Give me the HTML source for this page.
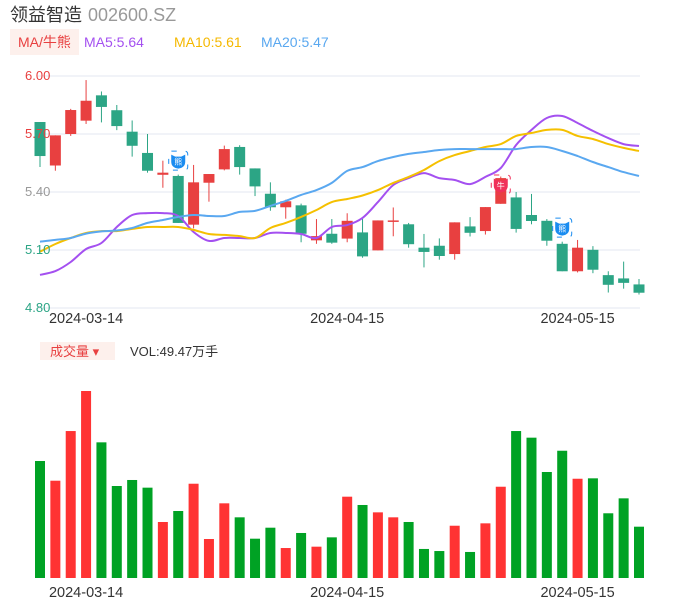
<!DOCTYPE html>
<html><head><meta charset="utf-8">
<style>
body{margin:0;background:#fff;width:686px;height:606px;overflow:hidden;font-family:"Liberation Sans","Noto Sans CJK SC",sans-serif;}
svg{position:absolute;left:0;top:0}
</style></head><body>
<svg id="c" width="686" height="606" xmlns="http://www.w3.org/2000/svg">
<text x="10" y="21" font-size="18" fill="#333">领益智造</text>
<text x="88" y="21" font-size="18" fill="#999">002600.SZ</text>
<rect x="10" y="29" width="69" height="26" fill="#fdf0ec"/>
<text x="18" y="47" font-size="14" fill="#e84040">MA/牛熊</text>
<text x="84" y="47" font-size="14" fill="#a450f0">MA5:5.64</text>
<text x="174" y="47" font-size="14" fill="#f5b800">MA10:5.61</text>
<text x="261" y="47" font-size="14" fill="#5aa8f0">MA20:5.47</text>
<rect x="40" y="342" width="75" height="18" fill="#fdf0ec"/>
<text x="50" y="356" font-size="13" fill="#e84040">成交量 ▾</text>
<text x="130" y="356" font-size="13" fill="#333">VOL:49.47万手</text>
<g id="grid"></g><g id="vol"></g><g id="cand"></g><g id="ma"></g><g id="icons"></g><g id="labels"></g>
</svg>
<script>
const dates=["2024-03-14","2024-04-15","2024-05-15"];
const dateIdx=[3,20,35];
const yTicks=[6.00,5.70,5.40,5.10,4.80];
const opens=[5.762,5.537,5.70,5.769,5.90,5.823,5.712,5.602,5.489,5.483,5.231,5.448,5.517,5.633,5.522,5.391,5.321,5.331,5.15,5.184,5.159,5.191,5.098,5.248,5.233,5.112,5.122,5.079,5.222,5.198,5.339,5.372,5.281,5.251,5.132,4.99,5.101,4.97,4.953,4.922];
const closes=[5.586,5.693,5.824,5.872,5.84,5.741,5.639,5.51,5.50,5.24,5.45,5.493,5.622,5.529,5.429,5.321,5.352,5.184,5.172,5.138,5.251,5.067,5.253,5.253,5.13,5.09,5.069,5.243,5.189,5.322,5.472,5.209,5.25,5.148,4.99,5.112,4.998,4.92,4.93,4.879];
const highs=[5.762,5.693,5.83,5.979,5.92,5.85,5.77,5.70,5.562,5.49,5.54,5.493,5.64,5.642,5.522,5.45,5.36,5.34,5.26,5.26,5.29,5.27,5.253,5.32,5.24,5.183,5.16,5.243,5.27,5.322,5.48,5.40,5.39,5.26,5.143,5.152,5.12,4.99,5.04,4.95];
const lows=[5.529,5.51,5.69,5.752,5.76,5.72,5.583,5.50,5.422,5.24,5.212,5.35,5.512,5.49,5.379,5.303,5.262,5.14,5.132,5.132,5.14,5.06,5.098,5.171,5.112,5.01,5.05,5.05,5.17,5.18,5.339,5.19,5.233,5.122,4.99,4.984,4.98,4.88,4.90,4.87];
const ma5=[4.971,4.991,5.038,5.105,5.136,5.219,5.281,5.291,5.291,5.276,5.193,5.147,5.162,5.162,5.162,5.188,5.188,5.183,5.162,5.219,5.229,5.266,5.348,5.436,5.472,5.498,5.472,5.462,5.441,5.478,5.524,5.643,5.721,5.783,5.793,5.757,5.716,5.679,5.648,5.638];
const ma10=[5.091,5.131,5.162,5.188,5.198,5.198,5.209,5.219,5.219,5.219,5.204,5.183,5.178,5.172,5.162,5.214,5.240,5.271,5.307,5.348,5.364,5.382,5.410,5.447,5.478,5.514,5.560,5.591,5.612,5.633,5.648,5.690,5.705,5.721,5.721,5.690,5.674,5.648,5.628,5.612];
const ma20=[5.143,5.152,5.162,5.185,5.196,5.201,5.214,5.240,5.255,5.271,5.281,5.276,5.276,5.297,5.302,5.328,5.354,5.385,5.410,5.447,5.509,5.529,5.560,5.581,5.597,5.607,5.617,5.622,5.622,5.622,5.622,5.622,5.633,5.633,5.612,5.586,5.555,5.529,5.503,5.483];
const volumes=[112.8,93.8,141.7,180.3,130.8,88.7,94.5,87.1,54,64.6,90.9,37.6,72,58.5,37.9,48.5,28.9,43.4,30.2,39.2,78.4,70.4,63.3,58.5,54,28,26,50.4,25.1,52.7,88,141.7,135.3,102.2,122.7,95.7,96.1,62.4,76.8,49.47];
const signals=[{i:9,t:"熊",up:true},{i:30,t:"牛",up:false},{i:34,t:"熊",up:true}];

const NS="http://www.w3.org/2000/svg";
function mk(tag,attrs,parent){const e=document.createElementNS(NS,tag);for(const k in attrs)e.setAttribute(k,attrs[k]);document.getElementById(parent).appendChild(e);return e;}
const x=i=>40+i*(599/39);
const y=p=>76+(6-p)*(232/1.2);
const vy=v=>578-v*(187/180.3);
const RED="#e84040",GRN="#2ca585";

yTicks.forEach((t,k)=>{
  const g=mk('line',{x1:38,x2:640,y1:y(t),y2:y(t),stroke:"#e3e7f0","stroke-width":1},'grid');
  
  
  const lb=mk('text',{x:25,y:y(t)+4,"font-size":13,fill:t>=5.7?RED:(t>=5.4?"#999":GRN)},'labels');
  lb.textContent=t.toFixed(2);
  
  
});
dates.forEach((d,k)=>{
  [323,597].forEach(yy=>{
    const t=mk('text',{x:x(dateIdx[k]),y:yy,"font-size":14.5,fill:"#333","text-anchor":"middle"},'labels');
    t.textContent=d;
    
    
  });
});
opens.forEach((o,i)=>{
  const c=closes[i],col=c>=o?RED:GRN,cx=x(i);
  const w=mk('line',{x1:cx,x2:cx,y1:y(highs[i]),y2:y(lows[i]),stroke:col,"stroke-width":1},'cand');
  
  
  const top=y(Math.max(o,c)),h=Math.max(1.5,Math.abs(y(o)-y(c)));
  const b=mk('rect',{x:cx-5.5,y:top,width:11,height:h,fill:col},'cand');
  
  
  const v=mk('rect',{x:cx-5,y:vy(volumes[i]),width:10,height:578-vy(volumes[i]),fill:c>=o?"#ff3333":"#00a224"},'vol');
  
  
});
function smooth(arr){
  const P=arr.map((v,i)=>[x(i),y(v)]);
  let d="M"+P[0][0].toFixed(1)+","+P[0][1].toFixed(1);
  for(let i=0;i<P.length-1;i++){
    const p0=P[Math.max(0,i-1)],p1=P[i],p2=P[i+1],p3=P[Math.min(P.length-1,i+2)];
    const c1=[p1[0]+(p2[0]-p0[0])/6,p1[1]+(p2[1]-p0[1])/6],c2=[p2[0]-(p3[0]-p1[0])/6,p2[1]-(p3[1]-p1[1])/6];
    d+="C"+c1[0].toFixed(1)+","+c1[1].toFixed(1)+" "+c2[0].toFixed(1)+","+c2[1].toFixed(1)+" "+p2[0].toFixed(1)+","+p2[1].toFixed(1);
  }
  return d;
}
[[ma5,"#a450f0","ma5-line"],[ma10,"#f5c000","ma10-line"],[ma20,"#5aa8f0","ma20-line"]].forEach(([arr,col,nm])=>{
  const p=mk('path',{d:smooth(arr),fill:"none",stroke:col,"stroke-width":2,"stroke-linejoin":"round"},'ma');
  
  
});
signals.forEach(s=>{
  const cx=x(s.i),cy=s.up?y(highs[s.i])-14:y(highs[s.i])+8;
  const col=s.t==="牛"?"#f0305a":"#1a8cf0";
  const f=mk('rect',{x:cx-9.5,y:cy-9.5,width:19,height:19,fill:"none",stroke:col,"stroke-width":1,"stroke-dasharray":"5 9",rx:3},'icons');
  
  
  const ci=mk('path',{d:`M${cx-7},${cy-6} L${cx-3},${cy-4} L${cx+3},${cy-4} L${cx+7},${cy-6} L${cx+7},${cy+1} Q${cx+7},${cy+7} ${cx},${cy+8} Q${cx-7},${cy+7} ${cx-7},${cy+1} Z`,fill:col},'icons');
  
  
  const t=mk('text',{x:cx,y:cy+4,"font-size":8,fill:"#fff","text-anchor":"middle"},'icons');
  t.textContent=s.t;
  
  
});
</script>
</body></html>
